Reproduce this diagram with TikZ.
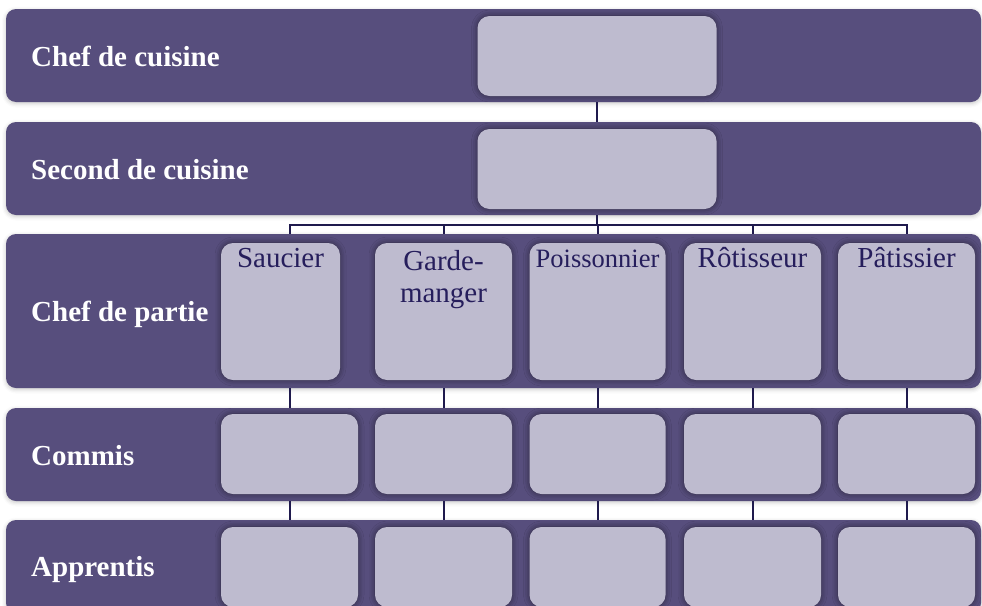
\documentclass[tikz,border=0pt]{standalone}
\usepackage{fontspec}
\setmainfont{Liberation Serif}
\usetikzlibrary{shadows.blur,calc}
\definecolor{bandc}{HTML}{574E7D}
\definecolor{boxc}{HTML}{BEBBCF}
\definecolor{linec}{HTML}{1F1A4D}
\definecolor{txtc}{HTML}{261E5C}
\begin{document}
\begin{tikzpicture}[x=1pt,y=-1pt,
  bandst/.style={fill=bandc, rounded corners=10pt, draw=none, inner sep=0pt, minimum width=975pt,
    blur shadow={shadow xshift=0pt, shadow yshift=-1.5pt, shadow blur radius=4pt, shadow opacity=22}},
  boxst/.style={fill=boxc, rounded corners=12pt, draw=none, inner sep=0pt,
    blur shadow={shadow xshift=0pt, shadow yshift=0pt, shadow blur radius=6pt, shadow opacity=50}},
  pbox/.style={boxst, minimum width=137pt, minimum height=137pt},
  rbox/.style={boxst, minimum width=137pt, minimum height=80pt},
  bandlbl/.style={anchor=base west, text=white, font=\fontsize{29}{32}\selectfont\bfseries, inner sep=0pt},
  boxlbl/.style={anchor=base, text=txtc, font=\fontsize{29}{32}\selectfont, inner sep=0pt, align=center},
  conn/.style={draw=linec, line width=2pt}]
\useasboundingbox (0,0) rectangle (982,605);
\clip (0,0) rectangle (982,605);

% bands
\node[bandst, minimum height=93pt] (b1) at (493.5,55.5) {};
\node[bandst, minimum height=93pt] (b2) at (493.5,168.5) {};
\node[bandst, minimum height=154pt] (b3) at (493.5,311) {};
\node[bandst, minimum height=93pt] (b4) at (493.5,454.5) {};
\node[bandst, minimum height=93pt] (b5) at (493.5,566.5) {};

% band labels
\node[bandlbl] (l1) at (31,66) {Chef de cuisine};
\node[bandlbl] (l2) at (31,179) {Second de cuisine};
\node[bandlbl] (l3) at (31,321) {Chef de partie};
\node[bandlbl] (l4) at (31,465) {Commis};
\node[bandlbl] (l5) at (31,576) {Apprentis};

% top boxes
\node[boxst, minimum width=239pt, minimum height=80pt] (tb) at (597,56) {};
\node[boxst, minimum width=239pt, minimum height=80pt] (sb) at (597,169) {};

% chef de partie boxes
\node[pbox, minimum width=119pt] (p1) at (280.5,311.5) {};
\node[pbox] (p2) at (443.5,311.5) {};
\node[pbox, minimum width=136pt] (p3) at (597.5,311.5) {};
\node[pbox] (p4) at (752.5,311.5) {};
\node[pbox] (p5) at (906.5,311.5) {};

% commis boxes
\node[rbox] (c1) at (289.5,454) {};
\node[rbox] (c2) at (443.5,454) {};
\node[rbox, minimum width=136pt] (c3) at (597.5,454) {};
\node[rbox] (c4) at (752.5,454) {};
\node[rbox] (c5) at (906.5,454) {};

% apprentis boxes
\node[rbox] (a1) at (289.5,567) {};
\node[rbox] (a2) at (443.5,567) {};
\node[rbox, minimum width=136pt] (a3) at (597.5,567) {};
\node[rbox] (a4) at (752.5,567) {};
\node[rbox] (a5) at (906.5,567) {};

% box labels
\node[boxlbl] (t1) at ($(p1.north)+(0,25)$) {Saucier};
\node[boxlbl] (t2) at ($(p2.north)+(0,60)$) {Garde-\\manger};
\node[boxlbl, font=\fontsize{26.5}{30}\selectfont] (t3) at ($(p3.north)+(0,25)$) {Poissonnier};
\node[boxlbl] (t4) at ($(p4.north)+(0,25)$) {Rôtisseur};
\node[boxlbl] (t5) at ($(p5.north)+(0,25)$) {Pâtissier};

% connectors (visible in the gaps between bands)
\draw[conn] (b1.south -| tb.south) -- (b2.north -| sb.north);
\draw[conn] (b2.south -| sb.south) -- ++(0,10) coordinate (hub);
\foreach \i in {1,...,5} {
  \draw[conn] (hub) -| (b3.north -| c\i.north);
  \draw[conn] (b3.south -| c\i.north) -- (b4.north -| c\i.north);
  \draw[conn] (b4.south -| a\i.north) -- (b5.north -| a\i.north);
}
\end{tikzpicture}
\end{document}
